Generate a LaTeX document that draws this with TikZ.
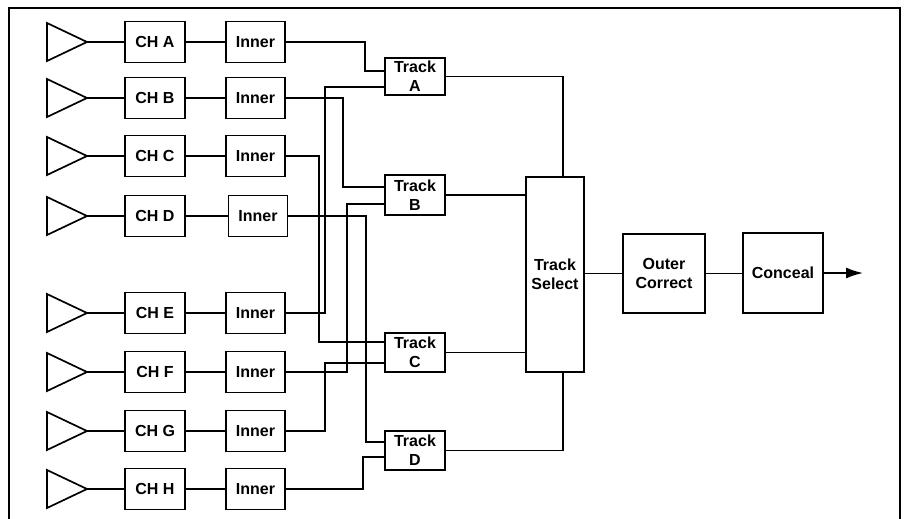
\documentclass[tikz,border=0pt]{standalone}
\usepackage{fontspec}
\setmainfont{Liberation Sans}
\usetikzlibrary{arrows.meta}
\begin{document}
\begin{tikzpicture}[x=1pt,y=-1pt,
  every path/.style={line width=1.6pt},
  blk/.style={draw,line width=1.7pt,inner sep=0pt,font=\fontsize{16}{19}\selectfont\bfseries,align=center},
  chbox/.style={blk,minimum width=60pt,minimum height=41pt},
  innerbox/.style={blk,minimum width=59pt,minimum height=41pt},
  trackbox/.style={blk,minimum width=60pt},
  wire/.style={line width=1.6pt},
  amp/.style={line width=1.7pt,line join=miter}]
\useasboundingbox (0,0) rectangle (907,519);
% frame
\draw[line width=1.3pt] (9,519) -- (9,8) -- (900,8) -- (900,519);
% channel rows
\foreach \l/\y/\ix in {A/42/255.5,B/98/255.5,C/156/255.5,D/216/258,E/313/255.5,F/372/255.5,G/431/255.5,H/489/255.5}{
  \draw[amp] (47,\y-19) -- (87,\y) -- (47,\y+19) -- cycle;
  \coordinate (t\l) at (87,\y);
  \node[chbox] (ch\l) at (155,\y) {CH \l};
  \node[innerbox] (in\l) at (\ix,\y) {Inner};
  \draw[wire] (t\l) -- (ch\l.west);
  \draw[wire] (ch\l.east) -- (in\l.west);
}
% track boxes
\node[trackbox,minimum height=37pt] (trA) at (415,76.5) {Track\\A};
\node[trackbox,minimum height=40pt] (trB) at (415,195) {Track\\B};
\node[trackbox,minimum height=39pt] (trC) at (415,352.5) {Track\\C};
\node[trackbox,minimum height=39pt] (trD) at (415,450.5) {Track\\D};
% track inputs
\coordinate (a1) at (385,71);  \coordinate (a2) at (385,87);
\coordinate (b1) at (385,187); \coordinate (b2) at (385,204);
\coordinate (c1) at (385,342); \coordinate (c2) at (385,363);
\coordinate (d1) at (385,442); \coordinate (d2) at (385,457);
% wiring
\draw[wire] (inA.east) -| (365,71) -- (a1);
\draw[wire] (inE.east) -| (325,87) -- (a2);
\draw[wire] (inB.east) -| (343,187) -- (b1);
\draw[wire] (inF.east) -| (347,204) -- (b2);
\draw[wire] (inC.east) -| (319,342) -- (c1);
\draw[wire] (inG.east) -| (325,363) -- (c2);
\draw[wire] (inD.east) -| (366,442) -- (d1);
\draw[wire] (inH.east) -| (363,457) -- (d2);
% track select and after
\node[blk,minimum width=58pt,minimum height=195pt] (tsel) at (555,274.5) {Track\\Select};
\node[blk,minimum width=82pt,minimum height=79pt] (outer) at (664,273.5) {Outer\\Correct};
\node[blk,minimum width=80pt,minimum height=80pt] (conc) at (783,273) {Conceal};
\coordinate (out) at (863,273);
\draw[wire] (trA.east) -| ([xshift=8pt]tsel.north);
\draw[wire] (trB.east) -- (trB.east -| tsel.west);
\draw[wire] (trC.east) -- (trC.east -| tsel.west);
\draw[wire] (trD.east) -| ([xshift=8pt]tsel.south);
\draw[wire] (tsel.east |- outer.west) -- (outer.west);
\draw[wire] (outer.east) -- (outer.east -| conc.west);
\draw[wire,-{Latex[length=17pt,width=11pt]}] (conc.east) -- (out);
\end{tikzpicture}
\end{document}
